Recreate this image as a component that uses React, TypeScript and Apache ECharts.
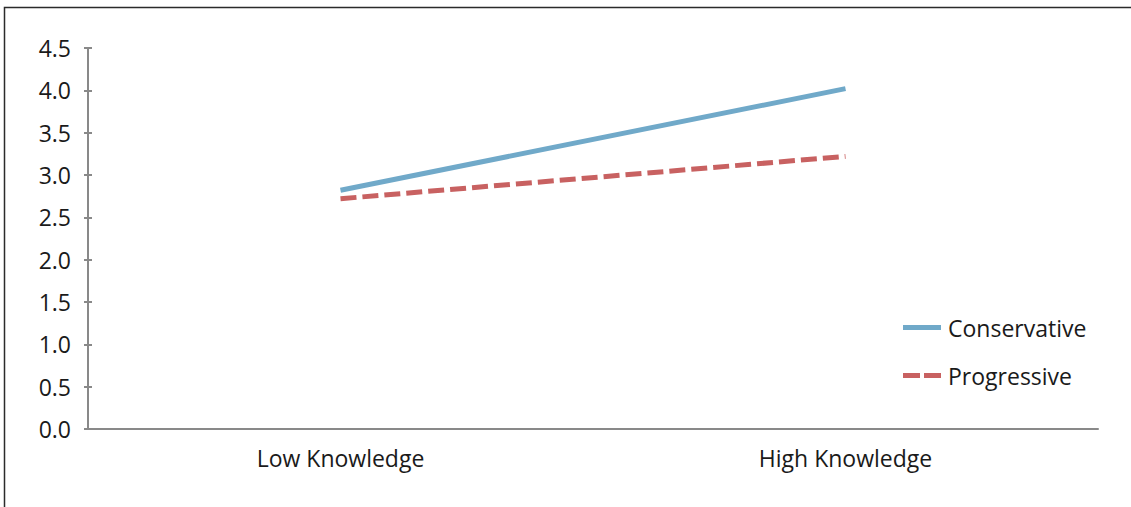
import React, { useEffect, useRef } from "react";
import * as echarts from "echarts";

const categories = ["Low Knowledge", "High Knowledge"];
const conservative = [2.82, 4.02];
const progressive = [2.72, 3.22];
const seriesNames = ["Conservative", "Progressive"];

const FONT = "'Open Sans', 'Noto Sans', sans-serif";
const FS = 23;

export default function App() {
  const ref = useRef<HTMLDivElement>(null);
  useEffect(() => {
    if (!ref.current) return;
    const chart = echarts.init(ref.current, undefined, { renderer: "svg" });
    const axisLine = { show: true, lineStyle: { color: "#898989", width: 2 } };
    chart.setOption({
      animation: false,
      backgroundColor: "#ffffff",
      grid: { left: 88, right: 33, top: 48, bottom: 78, containLabel: false },
      legend: {
        orient: "vertical",
        left: 898,
        top: 311,
        itemWidth: 38,
        itemHeight: 5,
        itemGap: 25,
        itemStyle: { borderWidth: 0 },
        textStyle: { fontFamily: FONT, fontSize: FS, color: "#1a1a1a", padding: [0, 0, 0, 2] },
        data: [
          { name: seriesNames[0], icon: "rect" },
          { name: seriesNames[1], icon: "path://M0,0H17V5H0Z M21,0H38V5H21Z" },
        ],
      },
      xAxis: {
        type: "category",
        data: categories,
        boundaryGap: true,
        axisLine,
        axisTick: { show: false },
        axisLabel: { fontFamily: FONT, fontSize: FS, color: "#1a1a1a", margin: 17 },
        splitLine: { show: false },
      },
      yAxis: [
        {
          type: "value",
          min: 0,
          max: 4.5,
          interval: 0.5,
          axisLine,
          axisTick: { show: true, inside: false, length: 4, lineStyle: { color: "#898989", width: 2 } },
          axisLabel: {
            fontFamily: FONT,
            fontSize: FS,
            color: "#1a1a1a",
            margin: 17,
            formatter: (v: number) => v.toFixed(1),
          },
          splitLine: { show: false },
        },
        {
          type: "value",
          position: "left",
          min: 0,
          max: 4.5,
          interval: 0.5,
          axisLine: { show: false },
          axisTick: { show: true, inside: true, length: 4, lineStyle: { color: "#898989", width: 2 } },
          axisLabel: { show: false },
          splitLine: { show: false },
        },
      ],
      series: [
        {
          name: seriesNames[0],
          type: "line",
          data: conservative,
          symbol: "none",
          lineStyle: { color: "#70A9C9", width: 5, type: "solid" },
          itemStyle: { color: "#70A9C9" },
        },
        {
          name: seriesNames[1],
          type: "line",
          data: progressive,
          symbol: "none",
          lineStyle: { color: "#C86161", width: 5, type: [16, 6] },
          itemStyle: { color: "#C86161" },
        },
      ],
      graphic: [
        {
          type: "rect",
          shape: { x: 4.5, y: 7.5, width: 1140, height: 520 },
          style: { fill: "none", stroke: "#2b2b2b", lineWidth: 1.5 },
          silent: true,
        },
      ],
    });
    return () => chart.dispose();
  }, []);
  return (
    <div
      ref={ref}
      style={{ position: "fixed", left: 0, top: 0, width: 1131, height: 507 }}
    />
  );
}
